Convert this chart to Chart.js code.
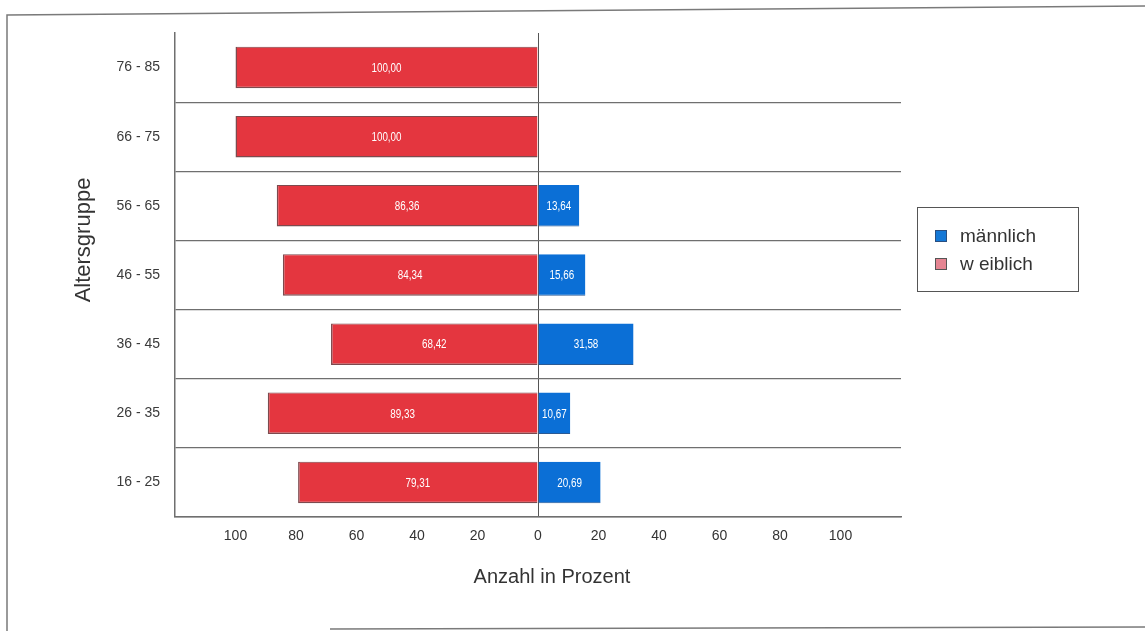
<!DOCTYPE html>
<html lang="de">
<head>
<meta charset="utf-8">
<title>Altersgruppe nach Geschlecht</title>
<script src="https://cdn.jsdelivr.net/npm/chart.js@4/dist/chart.umd.min.js"></script>
<style>
  html, body { margin: 0; padding: 0; background: #ffffff; }
  #chart { display: block; }
</style>
</head>
<body>
<canvas id="chart" width="1145" height="631"></canvas>
<script>
// Age groups, listed top to bottom
const altersgruppen = ['76 - 85', '66 - 75', '56 - 65', '46 - 55', '36 - 45', '26 - 35', '16 - 25'];
// Share of men and women per age group, in percent
const maennlich = [0, 0, 13.64, 15.66, 31.58, 10.67, 20.69];
const weiblich = [100.00, 100.00, 86.36, 84.34, 68.42, 89.33, 79.31];
// Axis ticks
const xTicks = [-100, -80, -60, -40, -20, 0, 20, 40, 60, 80, 100];
const seriesNames = ['männlich', 'w eiblich'];

const FONT = '"Liberation Sans", Arial, sans-serif';
const BLUE = '#0B6FD6';
const RED = '#E4363F';

const fmt = v => Math.abs(v).toFixed(2).replace('.', ',');

// Scanned-page frame behind the chart
const framePlugin = {
  id: 'frame',
  beforeDraw(chart) {
    const c = chart.ctx;
    c.save();
    c.strokeStyle = '#7a7a7a';
    c.lineWidth = 1.5;
    c.beginPath();
    c.moveTo(7, 631); c.lineTo(7, 15); c.lineTo(1145, 6);
    c.moveTo(330, 629); c.lineTo(1145, 627);
    c.stroke();
    c.restore();
  }
};

// Percent values written inside each bar segment (condensed lettering)
const valueLabels = {
  id: 'valueLabels',
  afterDatasetsDraw(chart) {
    const c = chart.ctx;
    chart.data.datasets.forEach((ds, di) => {
      const meta = chart.getDatasetMeta(di);
      meta.data.forEach((bar, i) => {
        const v = ds.data[i];
        if (!v) return;
        c.save();
        c.fillStyle = '#ffffff';
        c.font = '12px ' + FONT;
        c.textAlign = 'center';
        c.textBaseline = 'middle';
        c.translate((bar.x + bar.base) / 2, bar.y + 1);
        c.scale(0.82, 1);
        c.fillText(fmt(v), 0, 0);
        c.restore();
      });
    });
  }
};

// Axis titles and boxed legend
const annotations = {
  id: 'annotations',
  afterDraw(chart) {
    const c = chart.ctx;
    c.save();
    c.fillStyle = '#333333';
    c.textAlign = 'center';
    c.textBaseline = 'middle';
    c.font = '20px ' + FONT;
    c.fillText('Anzahl in Prozent', 552, 577);
    c.translate(84, 240);
    c.rotate(-Math.PI / 2);
    c.font = '22px ' + FONT;
    c.fillText('Altersgruppe', 0, 0);
    c.restore();

    c.save();
    c.strokeStyle = '#555555';
    c.lineWidth = 1;
    c.strokeRect(917.5, 207.5, 161, 84);
    const swatches = [
      { fill: '#1478D6', stroke: '#2a4f80' },
      { fill: '#E58592', stroke: '#555555' }
    ];
    chart.data.datasets.forEach((ds, i) => {
      const y = 236 + i * 28;
      c.fillStyle = swatches[i].fill;
      c.fillRect(935, y - 6, 12, 12);
      c.strokeStyle = swatches[i].stroke;
      c.strokeRect(935.5, y - 5.5, 11, 11);
      c.fillStyle = '#333333';
      c.font = '19px ' + FONT;
      c.textAlign = 'left';
      c.textBaseline = 'middle';
      c.fillText(ds.label, 960, y + 1);
    });
    c.restore();
  }
};

new Chart(document.getElementById('chart'), {
  type: 'bar',
  data: {
    labels: altersgruppen,
    datasets: [
      {
        label: seriesNames[0],
        data: maennlich,
        backgroundColor: BLUE,
        borderColor: '#2b5a94',
        borderWidth: { top: 0, right: 0, bottom: 1, left: 0 },
        borderSkipped: false
      },
      {
        label: seriesNames[1],
        data: weiblich.map(v => -v),
        backgroundColor: RED,
        borderColor: '#7d4a4e',
        borderWidth: { top: 1, right: 0, bottom: 1.5, left: 1.5 },
        borderSkipped: false
      }
    ]
  },
  options: {
    indexAxis: 'y',
    responsive: false,
    animation: false,
    layout: { padding: { top: 33, right: 244, bottom: 0, left: 0 } },
    barPercentage: 0.6,
    categoryPercentage: 1.0,
    plugins: {
      legend: { display: false },
      tooltip: { enabled: false }
    },
    scales: {
      x: {
        stacked: true,
        min: -120,
        max: 120,
        afterBuildTicks(scale) {
          scale.ticks = xTicks.map(v => ({ value: v }));
        },
        afterFit(scale) { scale.height = 114; },
        ticks: {
          padding: 11,
          color: '#333333',
          font: { family: FONT, size: 14 },
          callback: v => String(Math.abs(v))
        },
        grid: {
          drawTicks: false,
          lineWidth: 1,
          color: ctx => (ctx.tick && ctx.tick.value === 0) ? '#555555' : 'rgba(0,0,0,0)'
        },
        border: { display: true, color: '#6f6f6f', width: 1.5 }
      },
      y: {
        stacked: true,
        afterFit(scale) { scale.width = 175; },
        ticks: {
          padding: 15,
          color: '#3a3a3a',
          font: { family: FONT, size: 14 }
        },
        grid: {
          offset: true,
          drawTicks: false,
          lineWidth: 1.2,
          color: ctx => (ctx.type === 'tick' && ctx.index === 0) ? 'rgba(0,0,0,0)' : '#6f6f6f'
        },
        border: { display: true, color: '#6f6f6f', width: 1.5 }
      }
    }
  },
  plugins: [framePlugin, valueLabels, annotations]
});
</script>
</body>
</html>
